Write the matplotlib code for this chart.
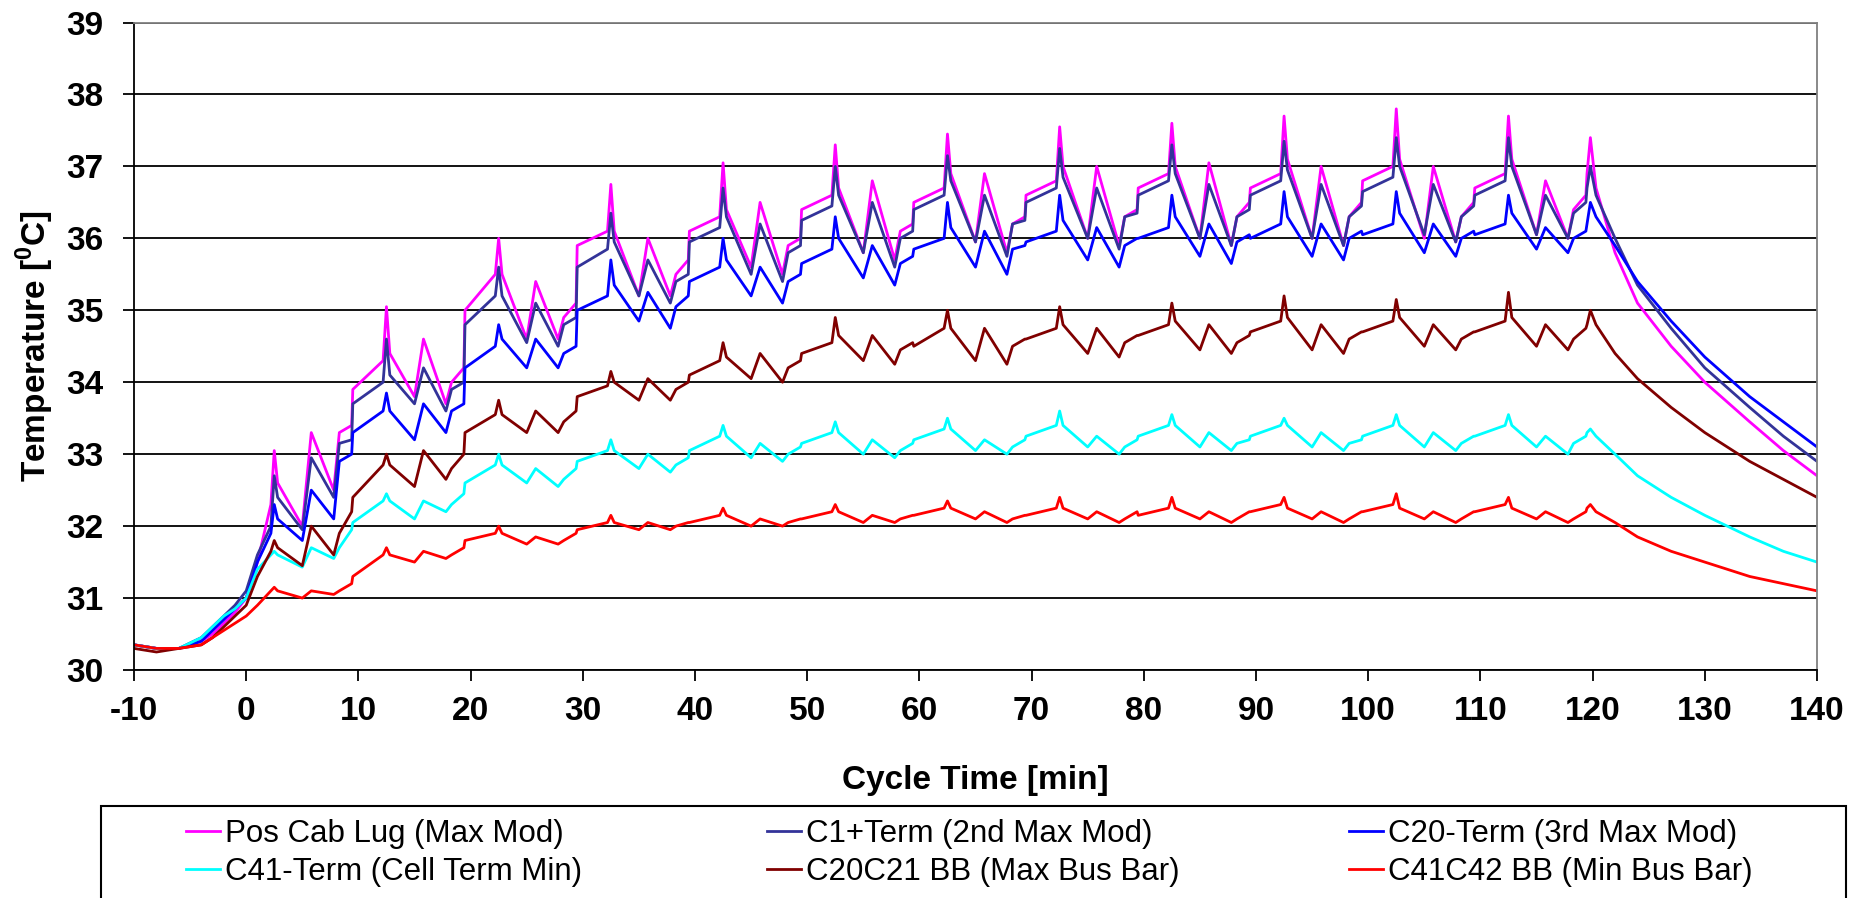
import matplotlib
matplotlib.use("Agg")
import matplotlib.pyplot as plt
from matplotlib.patches import Rectangle

# --- data (keypoints: plateaus, spikes, troughs) ---
TIME = [
    -10, -8, -6, -4, -3, -2, -1, 0, 1,
    2.2, 2.5, 2.8, 5.0, 5.8, 7.8, 8.3, 9.4,
    9.5, 12.2, 12.5, 12.8, 15.0, 15.8, 17.8, 18.3, 19.4,
    19.5, 22.2, 22.5, 22.8, 25.0, 25.8, 27.8, 28.3, 29.4,
    29.5, 32.2, 32.5, 32.8, 35.0, 35.8, 37.8, 38.3, 39.4,
    39.5, 42.2, 42.5, 42.8, 45.0, 45.8, 47.8, 48.3, 49.4,
    49.5, 52.2, 52.5, 52.8, 55.0, 55.8, 57.8, 58.3, 59.4,
    59.5, 62.2, 62.5, 62.8, 65.0, 65.8, 67.8, 68.3, 69.4,
    69.5, 72.2, 72.5, 72.8, 75.0, 75.8, 77.8, 78.3, 79.4,
    79.5, 82.2, 82.5, 82.8, 85.0, 85.8, 87.8, 88.3, 89.4,
    89.5, 92.2, 92.5, 92.8, 95.0, 95.8, 97.8, 98.3, 99.4,
    99.5, 102.2, 102.5, 102.8, 105.0, 105.8, 107.8, 108.3, 109.4,
    109.5, 112.2, 112.5, 112.8, 115.0, 115.8, 117.8, 118.3, 119.4,
    119.5, 119.8, 120.3, 122, 124, 127, 130, 134, 137, 140,
]

POS_CAB_LUG = [
    30.35, 30.3, 30.3, 30.4, 30.5, 30.65, 30.8, 31.0, 31.5,
    32.3, 33.05, 32.6, 32.0, 33.3, 32.5, 33.3, 33.4,
    33.9, 34.3, 35.05, 34.4, 33.8, 34.6, 33.7, 34.0, 34.2,
    35.0, 35.5, 36.0, 35.5, 34.6, 35.4, 34.6, 34.9, 35.1,
    35.9, 36.1, 36.75, 36.1, 35.2, 36.0, 35.2, 35.5, 35.7,
    36.1, 36.3, 37.05, 36.4, 35.6, 36.5, 35.5, 35.9, 36.0,
    36.4, 36.6, 37.3, 36.7, 35.8, 36.8, 35.7, 36.1, 36.2,
    36.5, 36.7, 37.45, 36.9, 35.95, 36.9, 35.8, 36.2, 36.3,
    36.6, 36.8, 37.55, 37.0, 36.0, 37.0, 35.9, 36.3, 36.4,
    36.7, 36.9, 37.6, 37.0, 36.0, 37.05, 35.9, 36.3, 36.5,
    36.7, 36.9, 37.7, 37.1, 36.0, 37.0, 35.9, 36.3, 36.5,
    36.8, 37.0, 37.8, 37.1, 36.0, 37.0, 35.95, 36.3, 36.5,
    36.7, 36.9, 37.7, 37.1, 36.05, 36.8, 36.0, 36.4, 36.6,
    36.9, 37.4, 36.7, 35.8, 35.1, 34.5, 34.0, 33.45, 33.05, 32.7,
]

C1_TERM = [
    30.35, 30.3, 30.3, 30.45, 30.6, 30.75, 30.9, 31.1, 31.6,
    32.0, 32.7, 32.4, 31.95, 32.95, 32.4, 33.15, 33.2,
    33.7, 34.0, 34.6, 34.1, 33.7, 34.2, 33.6, 33.9, 34.0,
    34.8, 35.2, 35.6, 35.2, 34.55, 35.1, 34.5, 34.8, 34.9,
    35.6, 35.85, 36.35, 35.95, 35.2, 35.7, 35.1, 35.4, 35.5,
    35.95, 36.15, 36.7, 36.3, 35.5, 36.2, 35.4, 35.8, 35.9,
    36.25, 36.45, 37.0, 36.6, 35.8, 36.5, 35.6, 36.0, 36.1,
    36.4, 36.6, 37.15, 36.8, 35.95, 36.6, 35.75, 36.2, 36.25,
    36.5, 36.7, 37.25, 36.85, 36.0, 36.7, 35.85, 36.3, 36.35,
    36.6, 36.8, 37.3, 36.9, 36.0, 36.75, 35.9, 36.3, 36.4,
    36.6, 36.8, 37.35, 36.95, 36.0, 36.75, 35.9, 36.3, 36.45,
    36.65, 36.85, 37.4, 37.0, 36.05, 36.75, 35.95, 36.3, 36.45,
    36.6, 36.8, 37.4, 37.0, 36.05, 36.6, 36.0, 36.35, 36.5,
    36.7, 37.0, 36.6, 36.0, 35.35, 34.75, 34.2, 33.65, 33.25, 32.9,
]

C20_TERM = [
    30.35, 30.3, 30.3, 30.4, 30.55, 30.7, 30.85, 31.0, 31.5,
    31.9, 32.3, 32.1, 31.8, 32.5, 32.1, 32.9, 33.0,
    33.3, 33.6, 33.85, 33.6, 33.2, 33.7, 33.3, 33.6, 33.7,
    34.2, 34.5, 34.8, 34.6, 34.2, 34.6, 34.2, 34.4, 34.5,
    35.0, 35.2, 35.7, 35.35, 34.85, 35.25, 34.75, 35.05, 35.2,
    35.4, 35.6, 36.0, 35.7, 35.2, 35.6, 35.1, 35.4, 35.5,
    35.65, 35.85, 36.3, 36.0, 35.45, 35.9, 35.35, 35.65, 35.75,
    35.85, 36.0, 36.5, 36.15, 35.6, 36.1, 35.5, 35.85, 35.9,
    35.95, 36.1, 36.6, 36.25, 35.7, 36.15, 35.6, 35.9, 36.0,
    36.0, 36.15, 36.6, 36.3, 35.75, 36.2, 35.65, 35.95, 36.05,
    36.0, 36.2, 36.65, 36.3, 35.75, 36.2, 35.7, 36.0, 36.1,
    36.05, 36.2, 36.65, 36.35, 35.8, 36.2, 35.75, 36.0, 36.1,
    36.05, 36.2, 36.6, 36.35, 35.85, 36.15, 35.8, 36.0, 36.1,
    36.2, 36.5, 36.3, 35.9, 35.4, 34.85, 34.35, 33.8, 33.45, 33.1,
]

C41_TERM = [
    30.35, 30.3, 30.3, 30.45, 30.6, 30.75, 30.85, 31.0, 31.4,
    31.6, 31.65, 31.6, 31.43, 31.7, 31.55, 31.7, 31.95,
    32.05, 32.35, 32.45, 32.35, 32.1, 32.35, 32.2, 32.3, 32.45,
    32.6, 32.85, 33.0, 32.85, 32.6, 32.8, 32.55, 32.65, 32.8,
    32.9, 33.05, 33.2, 33.05, 32.8, 33.0, 32.75, 32.85, 32.95,
    33.05, 33.25, 33.4, 33.25, 32.95, 33.15, 32.9, 33.0, 33.1,
    33.15, 33.3, 33.45, 33.3, 33.0, 33.2, 32.95, 33.05, 33.15,
    33.2, 33.35, 33.5, 33.35, 33.05, 33.2, 33.0, 33.1, 33.2,
    33.25, 33.4, 33.6, 33.4, 33.1, 33.25, 33.0, 33.1, 33.2,
    33.25, 33.4, 33.55, 33.4, 33.1, 33.3, 33.05, 33.15, 33.2,
    33.25, 33.4, 33.5, 33.4, 33.1, 33.3, 33.05, 33.15, 33.2,
    33.25, 33.4, 33.55, 33.4, 33.1, 33.3, 33.05, 33.15, 33.25,
    33.25, 33.4, 33.55, 33.4, 33.1, 33.25, 33.0, 33.15, 33.25,
    33.3, 33.35, 33.25, 33.0, 32.7, 32.4, 32.15, 31.85, 31.65, 31.5,
]

C20C21_BB = [
    30.3, 30.25, 30.3, 30.35, 30.45, 30.6, 30.75, 30.9, 31.3,
    31.65, 31.8, 31.7, 31.45, 32.0, 31.6, 31.9, 32.2,
    32.4, 32.85, 33.0, 32.85, 32.55, 33.05, 32.65, 32.8, 33.0,
    33.3, 33.55, 33.75, 33.55, 33.3, 33.6, 33.3, 33.45, 33.6,
    33.8, 33.95, 34.15, 34.0, 33.75, 34.05, 33.75, 33.9, 34.0,
    34.1, 34.3, 34.55, 34.35, 34.05, 34.4, 34.0, 34.2, 34.3,
    34.4, 34.55, 34.9, 34.65, 34.3, 34.65, 34.25, 34.45, 34.55,
    34.5, 34.75, 35.0, 34.75, 34.3, 34.75, 34.25, 34.5, 34.6,
    34.6, 34.75, 35.05, 34.8, 34.4, 34.75, 34.35, 34.55, 34.65,
    34.65, 34.8, 35.1, 34.85, 34.45, 34.8, 34.4, 34.55, 34.65,
    34.7, 34.85, 35.2, 34.9, 34.45, 34.8, 34.4, 34.6, 34.7,
    34.7, 34.85, 35.15, 34.9, 34.5, 34.8, 34.45, 34.6, 34.7,
    34.7, 34.85, 35.25, 34.9, 34.5, 34.8, 34.45, 34.6, 34.75,
    34.8, 35.0, 34.8, 34.4, 34.05, 33.65, 33.3, 32.9, 32.65, 32.4,
]

C41C42_BB = [
    30.35, 30.3, 30.3, 30.35, 30.45, 30.55, 30.65, 30.75, 30.9,
    31.1, 31.15, 31.1, 31.0, 31.1, 31.05, 31.1, 31.2,
    31.3, 31.6, 31.7, 31.6, 31.5, 31.65, 31.55, 31.6, 31.7,
    31.8, 31.9, 32.0, 31.9, 31.75, 31.85, 31.75, 31.8, 31.9,
    31.95, 32.05, 32.15, 32.05, 31.95, 32.05, 31.95, 32.0, 32.05,
    32.05, 32.15, 32.25, 32.15, 32.0, 32.1, 32.0, 32.05, 32.1,
    32.1, 32.2, 32.3, 32.2, 32.05, 32.15, 32.05, 32.1, 32.15,
    32.15, 32.25, 32.35, 32.25, 32.1, 32.2, 32.05, 32.1, 32.15,
    32.15, 32.25, 32.4, 32.25, 32.1, 32.2, 32.05, 32.1, 32.2,
    32.15, 32.25, 32.4, 32.25, 32.1, 32.2, 32.05, 32.1, 32.2,
    32.2, 32.3, 32.4, 32.25, 32.1, 32.2, 32.05, 32.1, 32.2,
    32.2, 32.3, 32.45, 32.25, 32.1, 32.2, 32.05, 32.1, 32.2,
    32.2, 32.3, 32.4, 32.25, 32.1, 32.2, 32.05, 32.1, 32.2,
    32.25, 32.3, 32.2, 32.05, 31.85, 31.65, 31.5, 31.3, 31.2, 31.1,
]

SERIES = [
    ("Pos Cab Lug (Max Mod)", POS_CAB_LUG, "#FF00FF"),
    ("C1+Term (2nd Max Mod)", C1_TERM, "#333399"),
    ("C20-Term (3rd Max Mod)", C20_TERM, "#0000FF"),
    ("C41-Term (Cell Term Min)", C41_TERM, "#00FFFF"),
    ("C20C21 BB (Max Bus Bar)", C20C21_BB, "#800000"),
    ("C41C42 BB (Min Bus Bar)", C41C42_BB, "#FF0000"),
]

X_TICKS = list(range(-10, 141, 10))
Y_TICKS = list(range(30, 40))

# --- Plot ---
plt.rcParams['font.family'] = ['Liberation Sans', 'DejaVu Sans']
plt.rcParams['axes.unicode_minus'] = False
plt.rcParams['mathtext.fontset'] = 'custom'
plt.rcParams['mathtext.rm'] = 'Liberation Sans'
plt.rcParams['mathtext.bf'] = 'Liberation Sans:bold'

fig = plt.figure(figsize=(18.56, 8.98), dpi=100)
ax = fig.add_axes([0.0722, 0.2539, 0.9068, 0.7210])

handles = []
for name, vals, col in SERIES:
    h, = ax.plot(TIME, vals, color=col, lw=2.0, label=name)
    handles.append(h)

ax.set_xlim(-10, 140)
ax.set_ylim(30, 39)
ax.set_xticks(X_TICKS)
ax.set_yticks(Y_TICKS)
ax.tick_params(direction='out', length=8, width=1.3, labelsize=24)
ax.tick_params(axis='x', pad=11)
ax.tick_params(axis='y', pad=14)
for lab in ax.get_xticklabels() + ax.get_yticklabels():
    lab.set_fontweight('bold')

ax.grid(axis='y', color='black', lw=1.3)
ax.set_axisbelow(True)
for side in ('left', 'bottom'):
    ax.spines[side].set_color('black')
    ax.spines[side].set_linewidth(1.3)
for side in ('top', 'right'):
    ax.spines[side].set_color('#808080')
    ax.spines[side].set_linewidth(1.3)

ax.set_xlabel('Cycle Time [min]', fontsize=24, fontweight='bold', va='center')
ax.set_ylabel(r'Temperature [$^\mathbf{0}$C]', fontsize=24, fontweight='bold', va='center')
ax.xaxis.set_label_coords(0.5, -0.171)
ax.yaxis.set_label_coords(-0.0588, 0.5)

# legend box
fig.patches.append(Rectangle((0.0544, -0.02), 0.9402, 0.1224, transform=fig.transFigure,
                             fill=False, edgecolor='black', lw=1.5, clip_on=False))
col_x = [0.1002, 0.4133, 0.7268]
for i, x in enumerate(col_x):
    fig.legend(handles=[handles[i], handles[i + 3]], loc='upper left',
               bbox_to_anchor=(x, 0.0885), frameon=False, fontsize=22.5,
               handlelength=1.1, handletextpad=0.15, labelspacing=0.28,
               borderpad=0, borderaxespad=0)

plt.savefig('out.png', dpi=100)
